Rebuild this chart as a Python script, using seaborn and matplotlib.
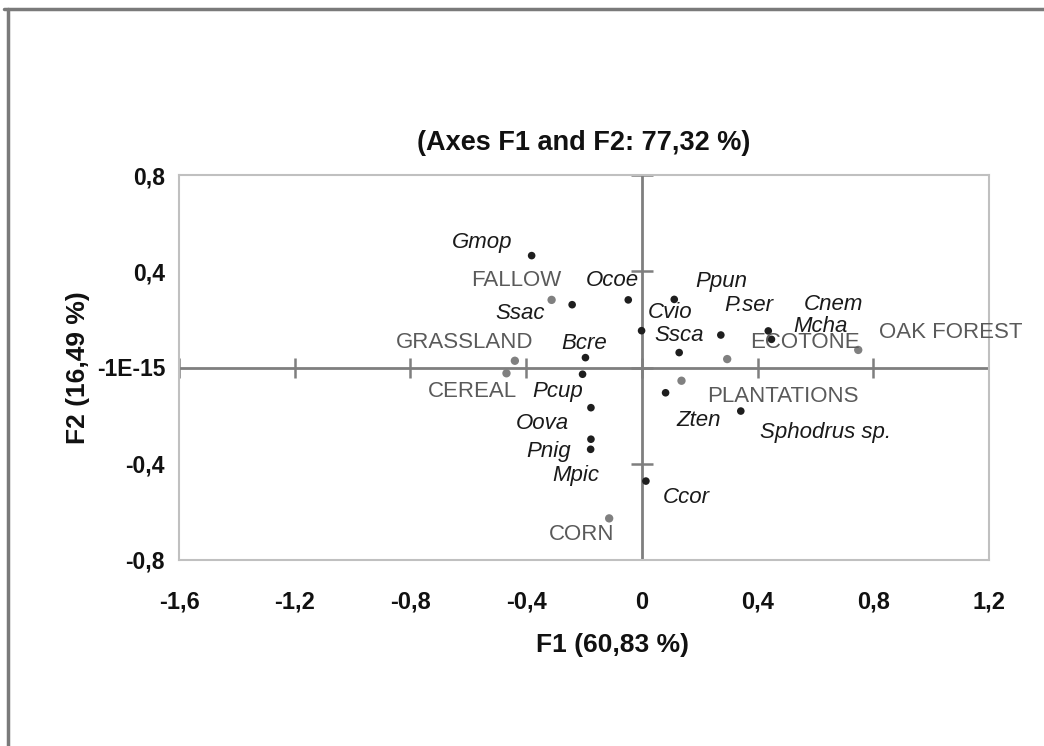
import matplotlib
matplotlib.use("Agg")
import matplotlib.pyplot as plt
from matplotlib.lines import Line2D
import seaborn as sns
import pandas as pd

# ---- data ----
species = ["Gmop", "Ssac", "Ocoe", "Cvio", "Ppun", "P.ser", "Cnem", "Mcha", "Ssca",
           "Bcre", "Pcup", "Oova", "Pnig", "Mpic", "Ccor", "Zten", "Sphodrus sp."]
species_f1 = [-0.381, -0.241, -0.047, -0.001, 0.112, 0.273, 0.437, 0.448, 0.129,
              -0.195, -0.205, -0.176, -0.176, -0.177, 0.014, 0.082, 0.342]
species_f2 = [0.465, 0.261, 0.281, 0.153, 0.283, 0.135, 0.152, 0.117, 0.062,
              0.041, -0.028, -0.167, -0.298, -0.340, -0.472, -0.105, -0.181]

sites = ["FALLOW", "GRASSLAND", "CEREAL", "CORN", "ECOTONE", "PLANTATIONS", "OAK FOREST"]
sites_f1 = [-0.312, -0.439, -0.468, -0.113, 0.295, 0.137, 0.748]
sites_f2 = [0.281, 0.028, -0.024, -0.627, 0.035, -0.055, 0.073]

x_ticks = [-1.6, -1.2, -0.8, -0.4, 0.0, 0.4, 0.8, 1.2]
x_ticklabels = ["-1,6", "-1,2", "-0,8", "-0,4", "0", "0,4", "0,8", "1,2"]
y_ticks = [0.8, 0.4, 0.0, -0.4, -0.8]
y_ticklabels = ["0,8", "0,4", "-1E-15", "-0,4", "-0,8"]

title = "(Axes F1 and F2: 77,32 %)"
x_label = "F1 (60,83 %)"
y_label = "F2 (16,49 %)"

# label placement offsets (pixels) - layout only
species_offsets = {
    "Gmop": (-49, 13), "Ssac": (-52, -9), "Ocoe": (-16, 19), "Cvio": (29, 18),
    "Ppun": (47, 18), "P.ser": (28, 30), "Cnem": (65, 26), "Mcha": (49, 13),
    "Ssca": (0, 17), "Bcre": (-1, 14), "Pcup": (-25, -17), "Oova": (-49, -16),
    "Pnig": (-42, -12), "Mpic": (-15, -26), "Ccor": (40, -16), "Zten": (33, -28),
    "Sphodrus sp.": (85, -21),
}
site_offsets = {
    "FALLOW": (-35, 19), "GRASSLAND": (-50, 18), "CEREAL": (-34, -18),
    "CORN": (-28, -16), "ECOTONE": (78, 17), "PLANTATIONS": (101, -16),
    "OAK FOREST": (93, 17),
}

sp_df = pd.DataFrame({"F1": species_f1, "F2": species_f2, "name": species})
st_df = pd.DataFrame({"F1": sites_f1, "F2": sites_f2, "name": sites})

sns.set_theme(style="white")
plt.rcParams["font.family"] = ["Liberation Sans", "DejaVu Sans"]
bold_family = ["Liberation Sans", "DejaVu Sans"]

fig = plt.figure(figsize=(10.44, 7.46), dpi=100)
ax = fig.add_axes([179 / 1044, 1 - 560 / 746, 810 / 1044, 385 / 746])

ax.set_xlim(-1.6, 1.2)
ax.set_ylim(-0.8, 0.8)

# zero axes
ax.axhline(0, color="#7f7f7f", lw=2.0, zorder=1)
ax.axvline(0, color="#7f7f7f", lw=2.0, zorder=1)
ax.plot(x_ticks, [0] * len(x_ticks), ls="none", marker="|", ms=14, mew=1.8,
        color="#7f7f7f", zorder=1)
ax.plot([0] * len(y_ticks), y_ticks, ls="none", marker="_", ms=16, mew=1.8,
        color="#7f7f7f", zorder=1)

sns.scatterplot(data=sp_df, x="F1", y="F2", ax=ax, color="#1e1e1e", s=30,
                edgecolor="none", zorder=3, legend=False)
sns.scatterplot(data=st_df, x="F1", y="F2", ax=ax, color="#808080", s=36,
                edgecolor="none", zorder=3, legend=False)

for _, r in sp_df.iterrows():
    dx, dy = species_offsets[r["name"]]
    ax.annotate(r["name"], (r["F1"], r["F2"]), xytext=(dx, dy),
                textcoords="offset pixels", ha="center", va="center",
                fontsize=16, style="italic", color="#1a1a1a", zorder=4,
                annotation_clip=False)
for _, r in st_df.iterrows():
    dx, dy = site_offsets[r["name"]]
    ax.annotate(r["name"], (r["F1"], r["F2"]), xytext=(dx, dy),
                textcoords="offset pixels", ha="center", va="center",
                fontsize=16, color="#5a5a5a", zorder=4,
                annotation_clip=False)

for side in ["left", "right", "top", "bottom"]:
    ax.spines[side].set_visible(True)
    ax.spines[side].set_color("#c0c0c0")
    ax.spines[side].set_linewidth(1.5)

ax.set_xticks(x_ticks)
ax.set_xticklabels(x_ticklabels, family=bold_family, fontweight="bold", fontsize=17)
ax.set_yticks(y_ticks)
ax.set_yticklabels(y_ticklabels, family=bold_family, fontweight="bold", fontsize=16.5)
ax.tick_params(axis="x", length=0, pad=22, colors="#111111")
ax.tick_params(axis="y", length=0, pad=10, colors="#111111")

ax.set_xlabel(x_label, family=bold_family, fontweight="bold", fontsize=19,
              labelpad=14, color="#111111")
ax.xaxis.set_label_coords(0.535, -0.19)
ax.set_ylabel(y_label, family=bold_family, fontweight="bold", fontsize=19,
              labelpad=5, color="#111111")
ax.set_title(title, family=bold_family, fontweight="bold", fontsize=19.5,
             pad=18, color="#111111")

# figure frame (top and left edges)
fig.add_artist(Line2D([4 / 1044, 1.0], [1 - 9 / 746, 1 - 9 / 746],
                      transform=fig.transFigure, color="#7a7a7a", lw=2.5))
fig.add_artist(Line2D([8 / 1044, 8 / 1044], [0.0, 1 - 9 / 746],
                      transform=fig.transFigure, color="#7a7a7a", lw=2.5))

fig.savefig("out.png", dpi=100, facecolor="white")
